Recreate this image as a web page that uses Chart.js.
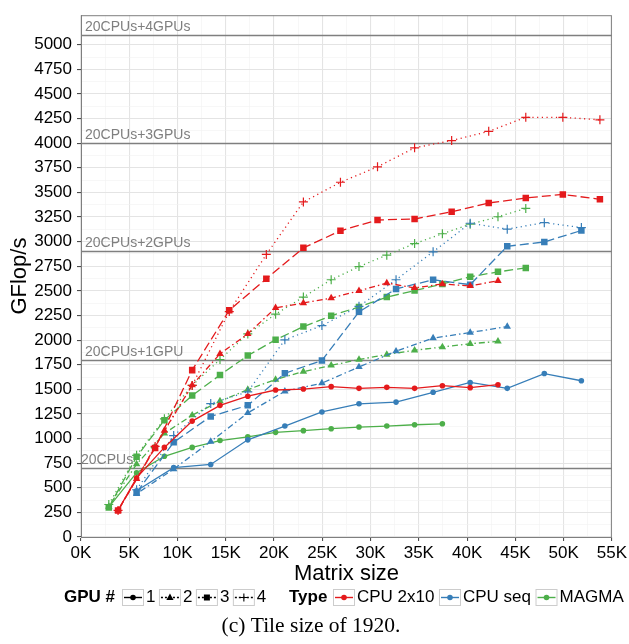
<!DOCTYPE html>
<html>
<head>
<meta charset="utf-8">
<script src="https://cdn.jsdelivr.net/npm/chart.js@4.4.0/dist/chart.umd.min.js"></script>
<style>
  html, body { margin: 0; padding: 0; background: #fff; }
  canvas { display: block; }
</style>
</head>
<body>
<canvas id="chart" width="629" height="644"></canvas>
<script>
// matrix sizes
const sizesCpu2x10A = [3840, 5760, 8640, 11520, 14400, 17280, 20160, 23040, 25920, 28800, 31680, 34560, 37440, 40320, 43200];
const sizesCpu2x10B = [3840, 7680, 11520, 15360, 19200, 23040, 26880, 30720, 34560, 38400, 42240, 46080, 49920, 53760];
const sizesCpuSeq = [5760, 9600, 13440, 17280, 21120, 24960, 28800, 32640, 36480, 40320, 44160, 48000, 51840];
const sizesMagma = [2880, 5760, 8640, 11520, 14400, 17280, 20160, 23040, 25920, 28800, 31680, 34560, 37440, 40320, 43200, 46080];

// GFlop/s
const cpu2x10Gpu1 = [270, 600, 910, 1177, 1337, 1430, 1493, 1503, 1527, 1510, 1520, 1510, 1537, 1517, 1547];
const cpu2x10Gpu2 = [270, 590, 1080, 1543, 1860, 2063, 2327, 2377, 2427, 2500, 2580, 2530, 2570, 2550, 2603];
const cpu2x10Gpu3 = [270, 905, 1695, 2303, 2623, 2937, 3110, 3220, 3230, 3303, 3393, 3443, 3480, 3430];
const cpu2x10Gpu4 = [270, 920, 1540, 2290, 2870, 3403, 3603, 3760, 3953, 4027, 4120, 4263, 4263, 4237];
const cpuSeqGpu1 = [470, 705, 737, 987, 1127, 1270, 1353, 1370, 1470, 1570, 1510, 1660, 1587];
const cpuSeqGpu2 = [440, 690, 970, 1260, 1480, 1563, 1727, 1887, 2020, 2077, 2137];
const cpuSeqGpu3 = [450, 963, 1225, 1337, 1663, 1793, 2287, 2520, 2613, 2563, 2953, 2997, 3113];
const cpuSeqGpu4 = [480, 1030, 1355, 1475, 2003, 2147, 2343, 2613, 2897, 3187, 3127, 3193, 3143];
const magmaGpu1 = [303, 653, 820, 910, 980, 1017, 1063, 1080, 1100, 1117, 1127, 1140, 1150];
const magmaGpu2 = [310, 740, 1053, 1237, 1380, 1497, 1600, 1680, 1743, 1803, 1853, 1897, 1930, 1963, 1987];
const magmaGpu3 = [300, 815, 1187, 1437, 1645, 1843, 2003, 2137, 2247, 2337, 2437, 2503, 2570, 2643, 2693, 2733];
const magmaGpu4 = [330, 830, 1200, 1540, 1803, 2063, 2263, 2437, 2613, 2747, 2863, 2980, 3080, 3177, 3253, 3337];

// peak reference lines
const refLevels = [700, 1800, 2900, 4000, 5100];
const refLabels = ["20CPUs", "20CPUs+1GPU", "20CPUs+2GPUs", "20CPUs+3GPUs", "20CPUs+4GPUs"];

const gpuLabels = ["1", "2", "3", "4"];
const typeLabels = ["CPU 2x10", "CPU seq", "MAGMA"];
const typeColors = ["#E41A1C", "#377EB8", "#4DAF4A"];

const seriesByType = [
  [[sizesCpu2x10A, cpu2x10Gpu1], [sizesCpu2x10A, cpu2x10Gpu2], [sizesCpu2x10B, cpu2x10Gpu3], [sizesCpu2x10B, cpu2x10Gpu4]],
  [[sizesCpuSeq, cpuSeqGpu1], [sizesCpuSeq, cpuSeqGpu2], [sizesCpuSeq, cpuSeqGpu3], [sizesCpuSeq, cpuSeqGpu4]],
  [[sizesMagma, magmaGpu1], [sizesMagma, magmaGpu2], [sizesMagma, magmaGpu3], [sizesMagma, magmaGpu4]],
];

const gpuStyles = [
  { point: "circle", radius: 2.8, dash: [] },
  { point: "triangle", radius: 4.3, dash: [1.5, 3, 6, 3] },
  { point: "rect", radius: 4.6, dash: [9, 4] },
  { point: "cross", radius: 4.5, dash: [1.2, 3.5] },
];

const FONT = "'Liberation Sans', Arial, Helvetica, sans-serif";
Chart.defaults.font.family = FONT;
Chart.defaults.color = "#000";

const datasets = [];
seriesByType.forEach((list, t) => {
  list.forEach(([xs, ys], g) => {
    const st = gpuStyles[g];
    datasets.push({
      label: typeLabels[t] + " / " + gpuLabels[g],
      data: xs.slice(0, ys.length).map((x, i) => ({ x: x, y: ys[i] })),
      borderColor: typeColors[t],
      backgroundColor: typeColors[t],
      borderWidth: 1.3,
      borderDash: st.dash,
      pointStyle: st.point,
      pointRadius: st.radius,
      pointBorderWidth: st.point === "cross" ? 1.2 : 0,
      pointBackgroundColor: typeColors[t],
      pointBorderColor: typeColors[t],
      tension: 0,
      fill: false,
    });
  });
});

// small marker drawer for the legend keys
function marker(ctx, style, x, y, color) {
  ctx.save();
  ctx.fillStyle = color;
  ctx.strokeStyle = color;
  ctx.setLineDash([]);
  ctx.beginPath();
  if (style === "circle") {
    ctx.arc(x, y, 2.8, 0, Math.PI * 2);
    ctx.fill();
  } else if (style === "triangle") {
    ctx.moveTo(x, y - 4);
    ctx.lineTo(x + 3.6, y + 2.4);
    ctx.lineTo(x - 3.6, y + 2.4);
    ctx.closePath();
    ctx.fill();
  } else if (style === "rect") {
    ctx.rect(x - 3, y - 3, 6, 6);
    ctx.fill();
  } else {
    ctx.lineWidth = 1.1;
    ctx.moveTo(x - 4, y); ctx.lineTo(x + 4, y);
    ctx.moveTo(x, y - 4); ctx.lineTo(x, y + 4);
    ctx.stroke();
  }
  ctx.restore();
}

const refLinesPlugin = {
  id: "refLines",
  beforeDatasetsDraw(chart) {
    const { ctx, chartArea, scales } = chart;
    ctx.save();
    ctx.strokeStyle = "#7f7f7f";
    ctx.lineWidth = 1.5;
    ctx.fillStyle = "#7f7f7f";
    ctx.font = "14px " + FONT;
    ctx.textBaseline = "alphabetic";
    refLevels.forEach((v, i) => {
      const y = Math.round(scales.y.getPixelForValue(v)) + 0.5;
      ctx.beginPath();
      ctx.moveTo(chartArea.left, y);
      ctx.lineTo(chartArea.right, y);
      ctx.stroke();
      const lx = chartArea.left + (i === 0 ? 0 : 4);
      ctx.fillText(refLabels[i], lx, y - 5);
    });
    // panel frame
    ctx.lineWidth = 1;
    ctx.strokeRect(chartArea.left + 0.5, chartArea.top + 0.5, chartArea.right - chartArea.left - 1, chartArea.bottom - chartArea.top);
    ctx.restore();
  },
};

const legendPlugin = {
  id: "customLegend",
  afterDraw(chart) {
    const ctx = chart.ctx;
    const cy = 597.5;
    const boxW = 22, boxH = 17;
    ctx.save();
    ctx.textBaseline = "middle";
    ctx.fillStyle = "#000";

    function key(x, color, style, dash) {
      ctx.save();
      ctx.fillStyle = "#fff";
      ctx.fillRect(x, cy - boxH / 2, boxW, boxH);
      ctx.strokeStyle = "#cccccc";
      ctx.lineWidth = 1;
      ctx.strokeRect(x + 0.5, cy - boxH / 2 + 0.5, boxW - 1, boxH - 1);
      ctx.strokeStyle = color;
      ctx.lineWidth = 1.4;
      ctx.setLineDash(dash);
      ctx.beginPath();
      ctx.moveTo(x + 2, cy);
      ctx.lineTo(x + boxW - 2, cy);
      ctx.stroke();
      ctx.restore();
      marker(ctx, style, x + boxW / 2, cy, color);
    }

    // GPU # group
    ctx.font = "bold 17px " + FONT;
    ctx.fillText("GPU #", 64, cy);
    let x = 122;
    ctx.font = "17px " + FONT;
    gpuLabels.forEach((lab, g) => {
      key(x, "#000", gpuStyles[g].point, gpuStyles[g].dash.length ? [2, 2] : []);
      ctx.fillStyle = "#000";
      ctx.fillText(lab, x + 24, cy);
      x += 24 + ctx.measureText(lab).width + 3.5;
    });

    // Type group
    ctx.font = "bold 17px " + FONT;
    ctx.fillText("Type", 289, cy);
    x = 333;
    ctx.font = "17px " + FONT;
    typeLabels.forEach((lab, t) => {
      key(x, typeColors[t], "circle", []);
      ctx.fillStyle = "#000";
      ctx.fillText(lab, x + 24, cy);
      x += 24 + ctx.measureText(lab).width + 4.5;
    });

    // caption
    ctx.font = "21.5px 'Liberation Serif', 'Times New Roman', serif";
    ctx.textAlign = "center";
    ctx.fillText("(c) Tile size of 1920.", 311, 626);
    ctx.restore();
  },
};

new Chart(document.getElementById("chart").getContext("2d"), {
  type: "line",
  data: { datasets: datasets },
  plugins: [refLinesPlugin, legendPlugin],
  options: {
    responsive: false,
    animation: false,
    events: [],
    layout: { padding: { left: 0, right: 17, top: 7, bottom: 57 } },
    plugins: { legend: { display: false }, tooltip: { enabled: false } },
    scales: {
      x: {
        type: "linear",
        min: 0,
        max: 55000,
        afterFit(scale) { scale.height = 50; },
        border: { color: "#7f7f7f", width: 1 },
        grid: {
          color: (c) => (c.tick && c.tick.value % 5000 === 0 ? "#e4e4e4" : "#f2f2f2"),
          lineWidth: (c) => (c.tick && c.tick.value % 5000 === 0 ? 1.1 : 0.6),
          tickColor: (c) => (c.tick && c.tick.value % 5000 === 0 ? "#4d4d4d" : "rgba(0,0,0,0)"),
          tickLength: 4,
        },
        ticks: {
          stepSize: 2500,
          autoSkip: false,
          maxRotation: 0,
          includeBounds: false,
          padding: 2,
          font: { size: 17 },
          color: "#000",
          callback: (v) => (v % 5000 === 0 ? v / 1000 + "K" : ""),
        },
        title: {
          display: true,
          text: "Matrix size",
          font: { size: 22 },
          color: "#000",
          padding: { top: 0, bottom: 0 },
        },
      },
      y: {
        min: 0,
        max: 5300,
        afterFit(scale) { scale.width = 81; },
        border: { color: "#7f7f7f", width: 1 },
        grid: {
          color: (c) => (c.tick && c.tick.value % 250 === 0 ? "#e4e4e4" : "#f2f2f2"),
          lineWidth: (c) => (c.tick && c.tick.value % 250 === 0 ? 1.1 : 0.6),
          tickColor: (c) => (c.tick && c.tick.value % 250 === 0 ? "#4d4d4d" : "rgba(0,0,0,0)"),
          tickLength: 4,
        },
        ticks: {
          stepSize: 125,
          autoSkip: false,
          includeBounds: false,
          padding: 5,
          font: { size: 17 },
          color: "#000",
          callback: (v) => (v > 5000 ? null : v % 250 === 0 ? String(v) : ""),
        },
        title: {
          display: true,
          text: "GFlop/s",
          font: { size: 22 },
          color: "#000",
          padding: { top: 7, bottom: 0 },
        },
      },
    },
  },
});
</script>
</body>
</html>
